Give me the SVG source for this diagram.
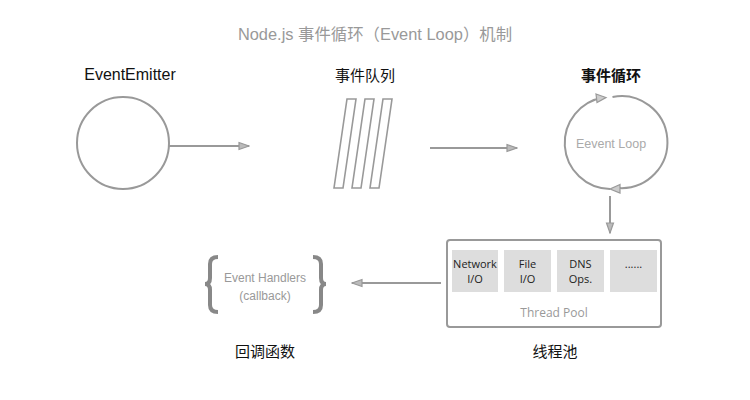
<svg xmlns="http://www.w3.org/2000/svg" width="750" height="400" viewBox="0 0 750 400">
<style>
.t{font-family:"Liberation Sans","Noto Sans CJK SC",sans-serif}
.title{font-size:16.4px;fill:#999}
.lbl{font-size:15px;fill:#111}
.ln{stroke:#999;stroke-width:2;fill:none}
.cell{fill:#ddd}
.ct{font-family:"Open Sans","Noto Sans",sans-serif;font-size:11px;fill:#222}
</style>
<defs>
<marker id="ah" viewBox="0 0 12 10" refX="11" refY="5" markerWidth="12" markerHeight="10" markerUnits="userSpaceOnUse" orient="auto">
<path d="M1,1.5 L11,5 L1,8.5 Z" fill="#bbb" stroke="#999" stroke-width="1.2"/>
</marker>
</defs>
<rect width="750" height="400" fill="#fff"/>
<text class="t title" x="375" y="40" text-anchor="middle">Node.js 事件循环（Event Loop）机制</text>

<g id="emitter">
<text class="t lbl" x="130" y="80" text-anchor="middle" style="font-size:16px">EventEmitter</text>
<circle cx="123" cy="143" r="46" class="ln"/>
</g>

<g id="queue">
<text class="t lbl" x="365" y="81" text-anchor="middle">事件队列</text>
<path class="ln" style="stroke-width:1.6" d="M347,99 L356,99 L343,188 L334,188 Z M365,99 L374,99 L361,188 L352,188 Z M383,99 L392,99 L379,188 L370,188 Z"/>
</g>

<g id="loop">
<text class="t lbl" x="611" y="81" text-anchor="middle" font-weight="bold">事件循环</text>
<path class="ln" d="M612.5,97.0 A46,46 0 1 1 620,188.1"/>
<path class="ln" d="M610,189 A46,46 0 0 1 604,97.5"/>
<path d="M596,94 L606,97.5 L597,102.5 Z" fill="#ccc" stroke="#999" stroke-width="1.2"/>
<path d="M620,184.5 L610,189 L620,193 Z" fill="#ccc" stroke="#999" stroke-width="1.2"/>
<text x="611" y="148" text-anchor="middle" font-family="Liberation Sans, sans-serif" font-size="12.5" fill="#aaa">Eevent Loop</text>
</g>

<g id="threadpool">
<rect x="447" y="240" width="214" height="87" rx="3" class="ln"/>
<rect class="cell" x="452" y="250" width="46" height="42"/>
<rect class="cell" x="504" y="250" width="47" height="42"/>
<rect class="cell" x="557" y="250" width="47" height="42"/>
<rect class="cell" x="610" y="250" width="47" height="42"/>
<text class="ct" x="475" y="268" text-anchor="middle">Network</text>
<text class="ct" x="475" y="283" text-anchor="middle">I/O</text>
<text class="ct" x="527.5" y="268" text-anchor="middle">File</text>
<text class="ct" x="527.5" y="283" text-anchor="middle">I/O</text>
<text class="ct" x="580.5" y="268" text-anchor="middle">DNS</text>
<text class="ct" x="580.5" y="283" text-anchor="middle">Ops.</text>
<text class="ct" x="633.5" y="268" text-anchor="middle">......</text>
<text x="554" y="317" text-anchor="middle" font-family="Open Sans, Noto Sans, sans-serif" font-size="12" fill="#999">Thread Pool</text>
<text class="t lbl" x="555" y="357" text-anchor="middle">线程池</text>
</g>

<g id="handlers">
<path d="M218,257 Q210,257 210,264 L210,278 Q210,284 205,284 Q210,284 210,290 L210,305 Q210,312 218,312" fill="none" stroke="#888" stroke-width="4"/>
<path d="M313,257 Q321,257 321,264 L321,278 Q321,284 326,284 Q321,284 321,290 L321,305 Q321,312 313,312" fill="none" stroke="#888" stroke-width="4"/>
<text x="265" y="282" text-anchor="middle" font-family="Liberation Sans, sans-serif" font-size="12" fill="#999">Event Handlers</text>
<text x="265" y="300" text-anchor="middle" font-family="Liberation Sans, sans-serif" font-size="12" fill="#999">(callback)</text>
<text class="t lbl" x="265" y="357" text-anchor="middle">回调函数</text>
</g>

<g id="connectors">
<line class="ln" x1="169" y1="146" x2="249" y2="146" marker-end="url(#ah)"/>
<line class="ln" x1="430" y1="148" x2="517" y2="148" marker-end="url(#ah)"/>
<line class="ln" x1="610" y1="196" x2="610" y2="233" marker-end="url(#ah)"/>
<line class="ln" x1="441" y1="283" x2="352" y2="283" marker-end="url(#ah)"/>
</g>
</svg>
